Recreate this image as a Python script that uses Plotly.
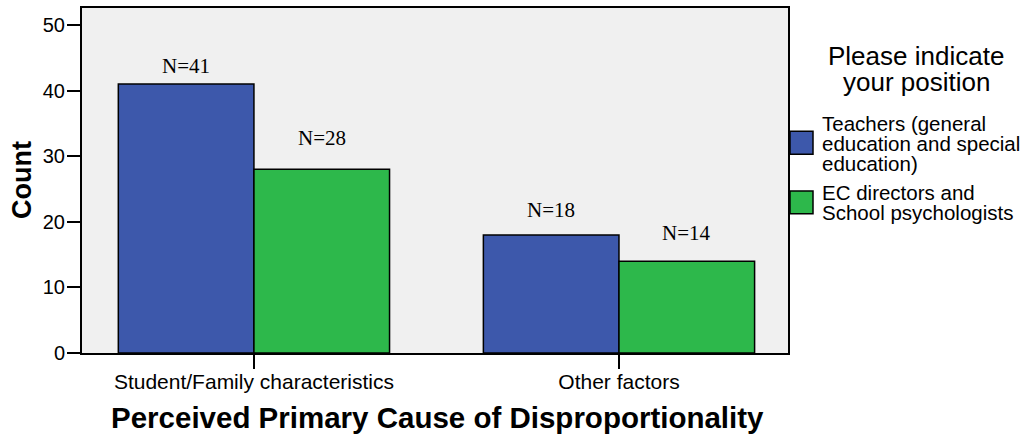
import plotly.graph_objects as go

categories = ["Student/Family characteristics", "Other factors"]
series_names = ["Teachers (general education and special education)",
                "EC directors and School psychologists"]
teachers = [41, 18]
directors = [28, 14]
y_ticks = [0, 10, 20, 30, 40, 50]

legend_lines = [["Teachers (general", "education and special", "education)"],
                ["EC directors and", "School psychologists"]]

BLUE = "#3D58AB"
GREEN = "#2DB84B"
BG = "#F0F0F0"
SANS = "Liberation Sans, Arial, sans-serif"
SERIF = "Liberation Serif, Times New Roman, serif"

W, H = 1029, 440
L, R, T, B = 82, 788, 6, 353
BARGAP = 0.257

fig = go.Figure()
for name, vals, col in [(series_names[0], teachers, BLUE), (series_names[1], directors, GREEN)]:
    fig.add_trace(go.Bar(
        x=categories, y=vals, name=name,
        marker=dict(color=col, line=dict(color="black", width=1.5)),
        showlegend=False, hoverinfo="x+y+name",
    ))

def px_x(p):
    return (p - L) / (R - L)

def px_y(p):
    return (B - p) / (B - T)

annotations = []
# N= labels above bars (offset in px above the bar top)
label_shift = [[18, 25], [31, 28]]
half = (1 - BARGAP) / 4
for s, (vals, off) in enumerate([(teachers, -half), (directors, half)]):
    for i, v in enumerate(vals):
        annotations.append(dict(
            x=i + off, y=v, xref="x", yref="y", text=f"N={v}",
            showarrow=False, yanchor="middle", yshift=label_shift[s][i],
            font=dict(family=SERIF, size=21, color="black"),
        ))

# Legend title
for txt, yc in [("Please indicate", 54), ("your position", 80)]:
    annotations.append(dict(
        x=px_x(916), y=px_y(yc), xref="paper", yref="paper", text=txt,
        showarrow=False, xanchor="center", yanchor="middle",
        font=dict(family=SANS, size=26, color="black"),
    ))

# Legend entries
legend_y = [[122, 142.5, 162], [192, 212]]
swatch_y = [(130, 153), (190, 213)]
shapes = []
for s, col in enumerate([BLUE, GREEN]):
    y0, y1 = swatch_y[s]
    shapes.append(dict(type="rect", xref="paper", yref="paper",
                       x0=px_x(790), x1=px_x(813), y0=px_y(y1), y1=px_y(y0),
                       fillcolor=col, line=dict(color="black", width=1.5)))
    for txt, yc in zip(legend_lines[s], legend_y[s]):
        annotations.append(dict(
            x=px_x(820), y=px_y(yc), xref="paper", yref="paper", text=txt,
            showarrow=False, xanchor="left", yanchor="middle",
            font=dict(family=SANS, size=20.5, color="black"),
        ))

# Axis titles
annotations.append(dict(
    x=px_x(437), y=px_y(418), xref="paper", yref="paper",
    text="<b>Perceived Primary Cause of Disproportionality</b>",
    showarrow=False, xanchor="center", yanchor="middle",
    font=dict(family=SANS, size=29.5, color="black"),
))
annotations.append(dict(
    x=px_x(22), y=px_y(179), xref="paper", yref="paper",
    text="<b>Count</b>", textangle=-90,
    showarrow=False, xanchor="center", yanchor="middle",
    font=dict(family=SANS, size=27, color="black"),
))

fig.update_layout(
    width=W, height=H,
    margin=dict(l=L, r=W - R, t=T, b=H - B),
    paper_bgcolor="white", plot_bgcolor=BG,
    barmode="group", bargap=BARGAP, bargroupgap=0,
    annotations=annotations, shapes=shapes,
    showlegend=False,
)
fig.update_xaxes(
    type="category", range=[-0.471, 1.463],
    showline=True, linecolor="black", linewidth=2, mirror=True,
    ticks="outside", ticklen=14, tickwidth=2, tickcolor="black",
    ticklabelstandoff=-5,
    tickfont=dict(family=SANS, size=21, color="black"),
    showgrid=False, zeroline=False, fixedrange=True,
)
fig.update_yaxes(
    range=[0, (B - T) / 6.6],
    tickvals=y_ticks,
    showline=True, linecolor="black", linewidth=2, mirror=True,
    ticks="outside", ticklen=13, tickwidth=2, tickcolor="black",
    ticklabelstandoff=-2,
    tickfont=dict(family=SANS, size=20, color="black"),
    showgrid=False, zeroline=False, fixedrange=True,
)

fig.write_html("out.html", config={"displayModeBar": False},
               post_script="document.body.style.margin='0';document.body.style.padding='0';")
